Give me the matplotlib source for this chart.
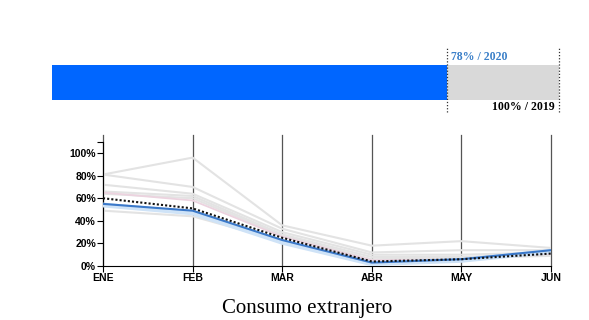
import matplotlib.pyplot as plt

# barra resumen
pct_2020 = 78
pct_2019 = 100

# lineas por mes
meses = ['ENE', 'FEB', 'MAR', 'ABR', 'MAY', 'JUN']
grises = [
    [81, 96, 36, 18, 22, 16],
    [81, 70, 33, 12, 14, 14],
    [72, 64, 30, 10, 10, 12],
    [66, 62, 28, 8, 8, 10],
    [64, 60, 27, 6, 7, 9],
    [49, 44, 22, 4, 6, 12],
]
rosa = [65, 58, 26, 5, 6, 11]
azul_claro = [54, 47, 21, 2, 5, 13]
actual = [55, 49, 23, 3, 6, 14]
promedio = [60, 51, 25, 4, 6, 11]
yticks = [0, 20, 40, 60, 80, 100]

W, H = 589, 320
fig = plt.figure(figsize=(W / 100, H / 100), dpi=100)

# --- barra ---
axb = fig.add_axes([52 / W, 1 - 115 / H, 507 / W, 70 / H])
axb.set_xlim(0, 100)
axb.set_ylim(0, 70)
axb.barh(32.5, pct_2020, height=35, left=0, color='#0066ff')
axb.barh(32.5, pct_2019 - pct_2020, height=35, left=pct_2020, color='#d9d9d9')
for xv in (pct_2020, pct_2019):
    axb.plot([xv, xv], [3, 67], color='#333333', lw=0.9, ls=(0, (1, 1.5)), clip_on=False)
axb.text(pct_2020 + 0.6, 58, f'{pct_2020}% / 2020', color='#3a7fc8',
         fontsize=8.5, fontweight='bold', family='Liberation Serif', va='center')
axb.text(pct_2019 - 0.8, 8, f'{pct_2019}% / 2019', color='black',
         fontsize=8.5, fontweight='bold', family='Liberation Serif', va='center', ha='right')
axb.axis('off')

# --- lineas ---
ax = fig.add_axes([103 / W, 1 - 266 / H, 448 / W, 131 / H])
x = range(len(meses))
ax.set_xlim(0, len(meses) - 1)
ax.set_ylim(0, 116)
for xi in x:
    ax.axvline(xi, color='#555555', lw=0.9, zorder=1, clip_on=False)
for g in grises:
    ax.plot(x, g, color='#e3e3e3', lw=1.5, zorder=2)
ax.plot(x, rosa, color='#ecd3df', lw=1.3, zorder=2)
ax.plot(x, azul_claro, color='#cfe3f7', lw=3.5, zorder=3)
ax.plot(x, actual, color='#3a78c9', lw=1.5, zorder=4)
ax.plot(x, promedio, color='#111111', lw=1.5, ls=(0, (1, 1)), zorder=5)

ax.spines['top'].set_visible(False)
ax.spines['right'].set_visible(False)
ax.spines['left'].set_bounds(0, 110)
ax.spines['left'].set_color('black')
ax.spines['bottom'].set_color('black')
ax.set_yticks(yticks + [110])
ax.set_yticklabels([f'{v}%' for v in yticks] + [''])
ax.set_xticks(list(x))
ax.set_xticklabels(meses)
ax.tick_params(axis='y', length=4, width=0.8, pad=1, labelsize=7.5)
ax.tick_params(axis='x', length=4, width=0.8, pad=1, labelsize=7.5)
for lab in ax.get_xticklabels() + ax.get_yticklabels():
    lab.set_fontweight('bold')
    lab.set_family('Liberation Sans')

fig.text(307 / W, 1 - 308 / H, 'Consumo extranjero', ha='center', va='center',
         fontsize=15, family='Liberation Serif')

plt.savefig('out.png', dpi=100)
